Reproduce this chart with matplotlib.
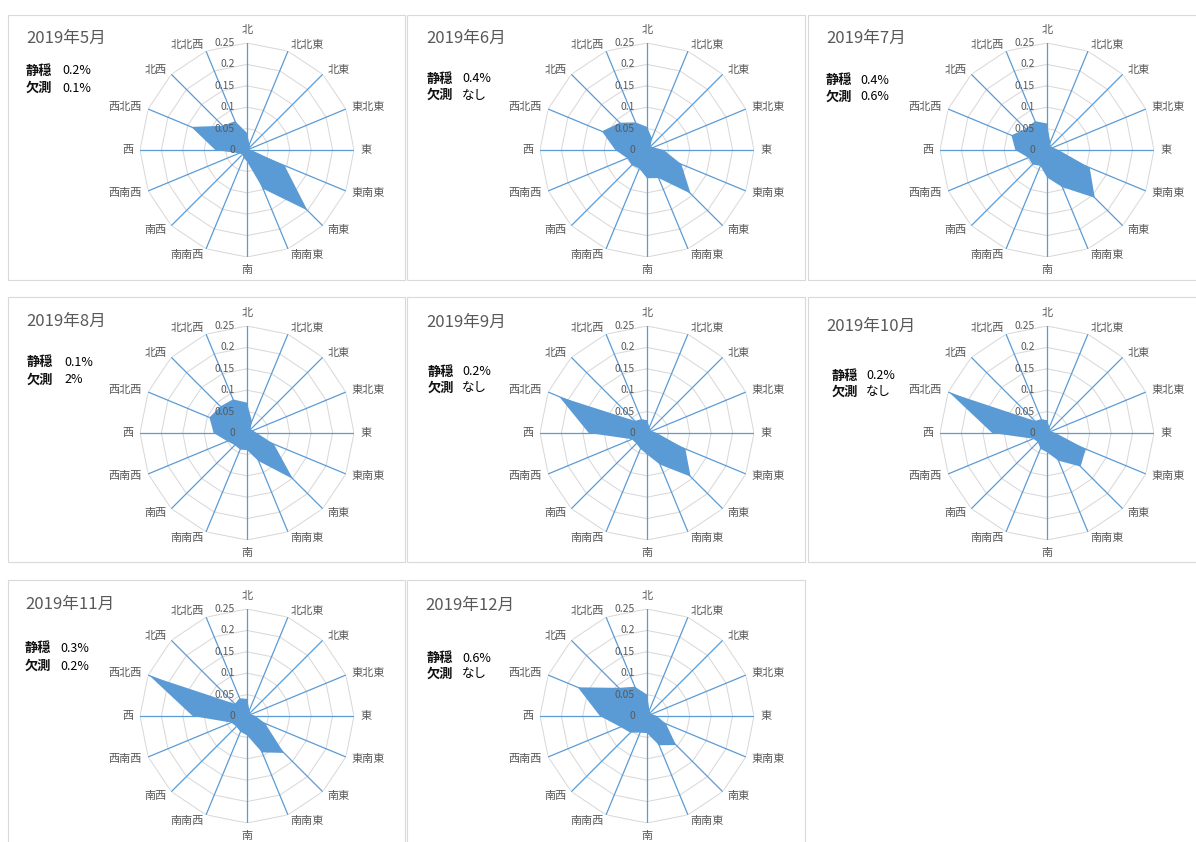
import numpy as np
import matplotlib
matplotlib.use("Agg")
import matplotlib.pyplot as plt
from matplotlib.patches import Rectangle

plt.rcParams['font.family'] = ['Noto Sans CJK JP', 'DejaVu Sans']

# 16 wind directions, clockwise from north
directions = ["北", "北北東", "北東", "東北東", "東", "東南東", "南東", "南南東",
              "南", "南南西", "南西", "西南西", "西", "西北西", "北西", "北北西"]

months = ["2019年5月", "2019年6月", "2019年7月", "2019年8月",
          "2019年9月", "2019年10月", "2019年11月", "2019年12月"]

# Relative frequency of each wind direction per month
freq_may = [0.040, 0.015, 0.010, 0.005, 0.010, 0.095, 0.200, 0.098,
            0.027, 0.020, 0.015, 0.020, 0.074, 0.141, 0.080, 0.073]
freq_jun = [0.054, 0.030, 0.012, 0.016, 0.039, 0.087, 0.144, 0.071,
            0.066, 0.047, 0.050, 0.050, 0.074, 0.114, 0.090, 0.070]
freq_jul = [0.062, 0.020, 0.012, 0.015, 0.027, 0.108, 0.158, 0.094,
            0.064, 0.040, 0.048, 0.047, 0.074, 0.090, 0.070, 0.073]
freq_aug = [0.071, 0.030, 0.012, 0.015, 0.023, 0.068, 0.152, 0.071,
            0.040, 0.042, 0.040, 0.050, 0.078, 0.095, 0.088, 0.085]
freq_sep = [0.030, 0.015, 0.010, 0.012, 0.023, 0.097, 0.144, 0.080,
            0.050, 0.040, 0.035, 0.038, 0.136, 0.222, 0.040, 0.035]
freq_oct = [0.030, 0.015, 0.010, 0.010, 0.020, 0.098, 0.111, 0.070,
            0.045, 0.040, 0.030, 0.035, 0.128, 0.247, 0.040, 0.035]
freq_nov = [0.040, 0.015, 0.010, 0.010, 0.020, 0.046, 0.122, 0.092,
            0.045, 0.040, 0.035, 0.040, 0.127, 0.247, 0.040, 0.045]
freq_dec = [0.050, 0.015, 0.010, 0.012, 0.023, 0.048, 0.096, 0.074,
            0.040, 0.042, 0.055, 0.067, 0.110, 0.175, 0.093, 0.074]

calm = ["0.2%", "0.4%", "0.4%", "0.1%", "0.2%", "0.2%", "0.3%", "0.6%"]
missing = ["0.1%", "なし", "0.6%", "2%", "なし", "なし", "0.2%", "なし"]

r_ticks = [0, 0.05, 0.1, 0.15, 0.2, 0.25]
r_tick_labels = ["0", "0.05", "0.1", "0.15", "0.2", "0.25"]

all_freq = [freq_may, freq_jun, freq_jul, freq_aug,
            freq_sep, freq_oct, freq_nov, freq_dec]

W, H = 1196, 842
fig = plt.figure(figsize=(W / 100, H / 100), dpi=100)
fig.patch.set_facecolor("white")

BLUE = "#5B9BD5"
GRID = "#D9D9D9"
TXT = "#595959"


def fx(x):
    return x / W


def fy(y):
    return 1 - y / H


# panel frames (left, top, right, bottom) in pixels
col_left = [8, 407, 808]
col_right = [405, 805, 1200]
row_top = [15, 297, 580]
row_bottom = [280, 562, 846]
centers_x = [247, 647, 1047]
centers_y = [150, 433, 716]
R = 107

title_pos = [(26, 38), (426, 38), (826, 38),
             (26, 321), (426, 322), (826, 326),
             (25, 604), (425, 605)]
stat_pos = [(26, 71, 88, 62), (427, 79, 95, 462), (826, 80, 97, 860),
            (27, 362, 380, 64), (428, 372, 388, 462), (832, 376, 392, 866),
            (25, 648, 666, 60), (427, 658, 674, 462)]

theta = np.arange(16) * 2 * np.pi / 16
theta_c = np.append(theta, theta[0])

for i, vals in enumerate(all_freq):
    row, col = divmod(i, 3)
    l, rgt = col_left[col], col_right[col]
    t, b = row_top[row], row_bottom[row]
    fig.patches.append(Rectangle((fx(l), fy(b)), fx(rgt - l), (b - t) / H,
                                 transform=fig.transFigure, fill=False,
                                 edgecolor=GRID, lw=0.8, zorder=0))

    cx, cy = centers_x[col], centers_y[row]
    ax = fig.add_axes([fx(cx - R), fy(cy + R), 2 * R / W, 2 * R / H],
                      projection="polar")
    ax.set_theta_zero_location("N")
    ax.set_theta_direction(-1)
    ax.set_ylim(0, 0.25)
    ax.grid(False)
    ax.spines["polar"].set_visible(False)
    ax.set_xticks([])
    ax.set_yticks([])
    ax.patch.set_alpha(0)

    for lev in r_ticks[1:]:
        ax.plot(theta_c, [lev] * 17, color=GRID, lw=0.75, zorder=1)
    for th in theta:
        ax.plot([th, th], [0, 0.25], color=BLUE, lw=0.9, zorder=2)

    v = np.append(vals, vals[0])
    ax.fill(theta_c, v, color=BLUE, lw=0, zorder=3)

    for lev, lab in zip(r_ticks, r_tick_labels):
        ax.annotate(lab, xy=(0, lev), xytext=(-8.6, 0),
                    textcoords="offset points", ha="right", va="center",
                    fontsize=7.5, color=TXT, zorder=4)

    for th, name in zip(theta, directions):
        s = np.sin(th)
        if abs(s) < 0.1:
            ax.text(th, 0.28, name, ha="center", va="center",
                    fontsize=8, color=TXT)
        else:
            ha = "left" if s > 0 else "right"
            ax.text(th, 0.265, name, ha=ha, va="center",
                    fontsize=8, color=TXT)

    tx, ty = title_pos[i]
    fig.text(fx(tx), fy(ty), months[i], ha="left", va="center",
             fontsize=12, color=TXT)
    sx, y1, y2, vx = stat_pos[i]
    fig.text(fx(sx), fy(y1), "静穏", ha="left", va="center",
             fontsize=9.5, fontweight="bold", color="#111111")
    fig.text(fx(vx), fy(y1), calm[i], ha="left", va="center",
             fontsize=9, color="black")
    fig.text(fx(sx), fy(y2), "欠測", ha="left", va="center",
             fontsize=9.5, fontweight="bold", color="#111111")
    fig.text(fx(vx), fy(y2), missing[i], ha="left", va="center",
             fontsize=9, color="black")

fig.savefig("out.png", dpi=100, facecolor="white")
